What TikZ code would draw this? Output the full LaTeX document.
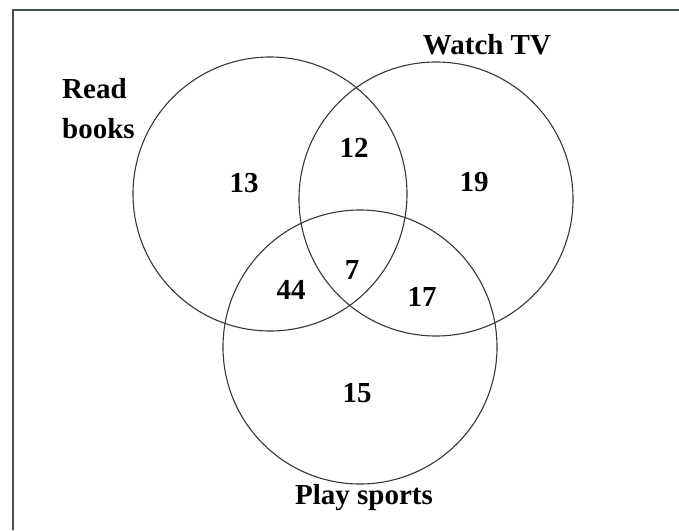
\documentclass[tikz,border=0pt]{standalone}
\usepackage{fontspec}
\setmainfont{Liberation Serif}
\usepackage{tikz}
\usetikzlibrary{positioning}
\definecolor{vnline}{RGB}{55,55,55}
\definecolor{vnframe}{RGB}{70,80,80}

\begin{document}
\begin{tikzpicture}[x=1pt, y=-1pt,
  every node/.style={font=\bfseries\fontsize{29}{40}\selectfont, text=black},
  setcirc/.style={circle, draw=vnline, line width=1.1pt,
                  minimum size=274pt, inner sep=0pt},
  setname/.style={inner sep=0pt, align=left},
  count/.style={inner sep=0pt},
]
\useasboundingbox (0,0) rectangle (679,530);

% Frame
\coordinate (frameTL) at (13,10);
\coordinate (frameTR) at (679,10);
\coordinate (frameBL) at (13,530);
\draw[vnframe, line width=1.8pt] (frameTR) -- (frameTL) -- (frameBL);

% Sets
\node[setcirc] (books)  at (270,194) {};
\node[setcirc] (tv)     at (436,199) {};
\node[setcirc] (sports) at (360,347) {};

% Set names
\node[setname, anchor=north west] (booksname) at (62,78) {Read\\books};
\node[setname] (tvname)     at (487,45)  {Watch TV};
\node[setname] (sportsname) at (364,498) {Play sports};

% Counts
\node[count] (onlybooks)  at (244,183) {13};
\node[count] (bookstv)    at (354,148) {12};
\node[count] (onlytv)     at (474,182) {19};
\node[count] (allthree)   at (352,270) {7};
\node[count] (bookssport) at (291,290) {44};
\node[count] (tvsport)    at (422,297) {17};
\node[count] (onlysport)  at (357,393) {15};

\end{tikzpicture}
\end{document}
